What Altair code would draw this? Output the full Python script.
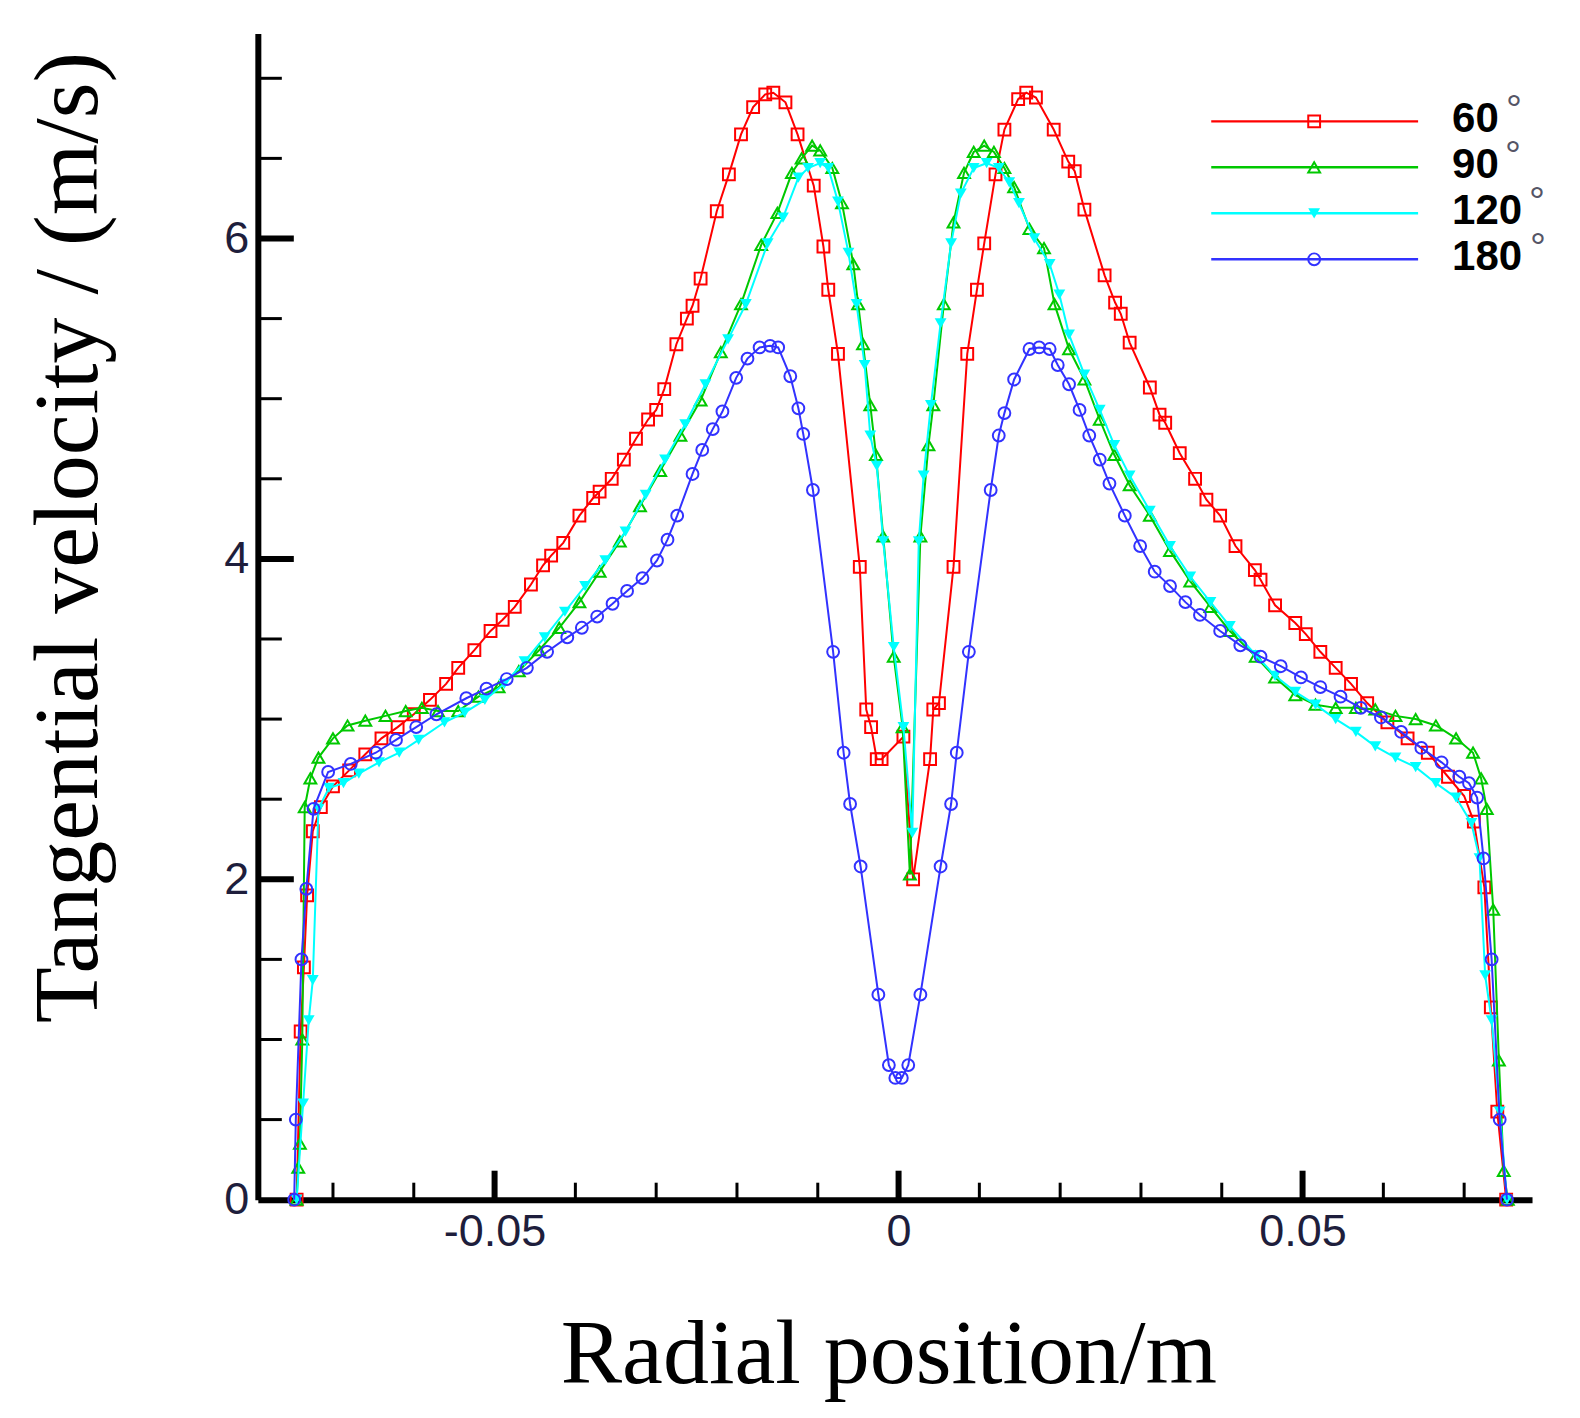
import altair as alt
import pandas as pd

# ---------------- data ----------------
series_names = ["60°", "90°", "120°", "180°"]
legend_numbers = ["60", "90", "120", "180"]

x_60 = [-0.0745, -0.0740, -0.0736, -0.0732, -0.0725, -0.0715, -0.0700, -0.0680, -0.0660, -0.0640,
        -0.0620, -0.0600, -0.0580, -0.0560, -0.0545, -0.0525, -0.0505, -0.0490, -0.0475, -0.0455,
        -0.0440, -0.0430, -0.0415, -0.0395, -0.0378, -0.0370, -0.0355, -0.0340, -0.0325, -0.0310,
        -0.0300, -0.0290, -0.0275, -0.0262, -0.0255, -0.0245, -0.0225, -0.0210, -0.0195, -0.0180,
        -0.0165, -0.0155, -0.0140, -0.0125, -0.0105, -0.0093, -0.0087, -0.0075, -0.0048, -0.0040,
        -0.0034, -0.0027, -0.0021, 0.0006, 0.0018, 0.0039, 0.0043, 0.0050, 0.0068, 0.0085,
        0.0097, 0.0106, 0.0120, 0.0131, 0.0148, 0.0158, 0.0170, 0.0192, 0.0210, 0.0218,
        0.0230, 0.0255, 0.0268, 0.0275, 0.0286, 0.0311, 0.0323, 0.0330, 0.0348, 0.0367,
        0.0381, 0.0398, 0.0417, 0.0441, 0.0448, 0.0466, 0.0491, 0.0504, 0.0522, 0.0541,
        0.0560, 0.0580, 0.0605, 0.0630, 0.0655, 0.0680, 0.0700, 0.0712, 0.0725, 0.0733,
        0.0741, 0.0752]
y_60 = [0.00, 1.05, 1.45, 1.90, 2.30, 2.45, 2.58, 2.68, 2.78, 2.88,
        2.95, 3.03, 3.12, 3.22, 3.32, 3.43, 3.55, 3.62, 3.70, 3.84,
        3.96, 4.02, 4.10, 4.27, 4.38, 4.42, 4.50, 4.62, 4.75, 4.87,
        4.93, 5.06, 5.34, 5.50, 5.58, 5.75, 6.17, 6.40, 6.65, 6.82,
        6.90, 6.91, 6.85, 6.65, 6.33, 5.95, 5.68, 5.28, 3.95, 3.06,
        2.95, 2.75, 2.75, 2.89, 2.00, 2.75, 3.06, 3.10, 3.95, 5.28,
        5.68, 5.97, 6.40, 6.68, 6.87, 6.91, 6.88, 6.68, 6.48, 6.42,
        6.18, 5.77, 5.60, 5.53, 5.35, 5.07, 4.90, 4.85, 4.66, 4.50,
        4.37, 4.27, 4.08, 3.93, 3.87, 3.71, 3.60, 3.53, 3.42, 3.32,
        3.22, 3.10, 2.98, 2.88, 2.79, 2.64, 2.52, 2.36, 1.95, 1.20,
        0.55, 0.00]

x_90 = [-0.0745, -0.0743, -0.0741, -0.0738, -0.0735, -0.0728, -0.0718, -0.0700, -0.0682, -0.0660,
        -0.0635, -0.0610, -0.0590, -0.0570, -0.0545, -0.0520, -0.0495, -0.0470, -0.0445, -0.0420,
        -0.0395, -0.0370, -0.0345, -0.0320, -0.0295, -0.0270, -0.0245, -0.0220, -0.0195, -0.0170,
        -0.0150, -0.0132, -0.0120, -0.0107, -0.0097, -0.0082, -0.0070, -0.0056, -0.0050, -0.0044,
        -0.0035, -0.0028, -0.0019, -0.0006, 0.0005, 0.0014, 0.0027, 0.0037, 0.0043, 0.0056,
        0.0068, 0.0081, 0.0093, 0.0106, 0.0118, 0.0131, 0.0143, 0.0162, 0.0180, 0.0193,
        0.0211, 0.0230, 0.0249, 0.0267, 0.0286, 0.0311, 0.0336, 0.0361, 0.0386, 0.0410,
        0.0442, 0.0466, 0.0491, 0.0516, 0.0541, 0.0566, 0.0590, 0.0615, 0.0640, 0.0665,
        0.0690, 0.0711, 0.0721, 0.0728, 0.0736, 0.0743, 0.0749, 0.0754]
y_90 = [0.00, 0.20, 0.35, 1.00, 2.45, 2.63, 2.76, 2.88, 2.96, 2.99,
        3.02, 3.05, 3.07, 3.05, 3.05, 3.14, 3.20, 3.30, 3.43, 3.57,
        3.73, 3.92, 4.11, 4.33, 4.55, 4.77, 4.99, 5.29, 5.59, 5.96,
        6.16, 6.41, 6.50, 6.58, 6.55, 6.44, 6.22, 5.84, 5.59, 5.34,
        4.96, 4.65, 4.14, 3.39, 2.95, 2.03, 4.14, 4.71, 4.96, 5.59,
        6.10, 6.41, 6.54, 6.58, 6.54, 6.44, 6.32, 6.06, 5.94, 5.59,
        5.31, 5.12, 4.87, 4.65, 4.46, 4.27, 4.05, 3.86, 3.70, 3.55,
        3.39, 3.26, 3.15, 3.09, 3.07, 3.07, 3.06, 3.02, 3.00, 2.96,
        2.88, 2.79, 2.63, 2.44, 1.81, 0.87, 0.18, 0.00]

x_120 = [-0.0745, -0.0737, -0.0730, -0.0725, -0.0718, -0.0705, -0.0687, -0.0668, -0.0643, -0.0618,
         -0.0594, -0.0562, -0.0537, -0.0512, -0.0488, -0.0463, -0.0438, -0.0413, -0.0388, -0.0363,
         -0.0338, -0.0313, -0.0289, -0.0264, -0.0239, -0.0211, -0.0189, -0.0162, -0.0143, -0.0124,
         -0.0112, -0.0097, -0.0087, -0.0075, -0.0062, -0.0052, -0.0042, -0.0035, -0.0027, -0.0019,
         -0.0006, 0.0006, 0.0017, 0.0025, 0.0031, 0.0040, 0.0052, 0.0065, 0.0077, 0.0093,
         0.0109, 0.0124, 0.0137, 0.0149, 0.0168, 0.0187, 0.0199, 0.0211, 0.0230, 0.0249,
         0.0267, 0.0286, 0.0311, 0.0336, 0.0361, 0.0386, 0.0410, 0.0442, 0.0466, 0.0491,
         0.0516, 0.0541, 0.0566, 0.0590, 0.0615, 0.0640, 0.0665, 0.0690, 0.0709, 0.0719,
         0.0726, 0.0734, 0.0744, 0.0753]
y_120 = [0.00, 0.60, 1.12, 1.37, 2.44, 2.57, 2.60, 2.66, 2.73, 2.79,
         2.87, 2.98, 3.04, 3.12, 3.22, 3.36, 3.51, 3.67, 3.83, 3.99,
         4.17, 4.40, 4.62, 4.84, 5.09, 5.37, 5.59, 5.97, 6.13, 6.38,
         6.44, 6.47, 6.44, 6.23, 5.91, 5.59, 5.21, 4.77, 4.58, 4.11,
         3.45, 2.95, 2.29, 4.11, 4.52, 4.96, 5.47, 5.97, 6.28, 6.44,
         6.47, 6.44, 6.35, 6.22, 6.00, 5.84, 5.65, 5.40, 5.15, 4.93,
         4.71, 4.52, 4.30, 4.08, 3.89, 3.73, 3.58, 3.40, 3.27, 3.17,
         3.09, 3.00, 2.92, 2.83, 2.76, 2.70, 2.60, 2.51, 2.35, 2.13,
         1.40, 1.12, 0.55, 0.00]

x_180 = [-0.0748, -0.0746, -0.0739, -0.0733, -0.0724, -0.0706, -0.0678, -0.0647, -0.0622, -0.0597,
         -0.0572, -0.0535, -0.0510, -0.0485, -0.0460, -0.0435, -0.0410, -0.0392, -0.0373, -0.0354,
         -0.0336, -0.0317, -0.0299, -0.0286, -0.0274, -0.0255, -0.0243, -0.0230, -0.0218, -0.0201,
         -0.0187, -0.0172, -0.0159, -0.0149, -0.0134, -0.0124, -0.0118, -0.0106, -0.0081, -0.0068,
         -0.0060, -0.0047, -0.0025, -0.0012, -0.0004, 0.0004, 0.0012, 0.0027, 0.0052, 0.0065,
         0.0072, 0.0087, 0.0114, 0.0124, 0.0131, 0.0143, 0.0162, 0.0174, 0.0187, 0.0197,
         0.0211, 0.0224, 0.0236, 0.0249, 0.0261, 0.0280, 0.0299, 0.0317, 0.0336, 0.0355,
         0.0373, 0.0398, 0.0423, 0.0448, 0.0473, 0.0498, 0.0522, 0.0547, 0.0572, 0.0597,
         0.0622, 0.0647, 0.0672, 0.0694, 0.0706, 0.0716, 0.0724, 0.0734, 0.0744, 0.0753]
y_180 = [0.00, 0.50, 1.50, 1.94, 2.44, 2.67, 2.72, 2.79, 2.87, 2.95,
         3.03, 3.13, 3.19, 3.25, 3.32, 3.42, 3.51, 3.57, 3.64, 3.72,
         3.80, 3.88, 3.99, 4.12, 4.27, 4.53, 4.68, 4.81, 4.92, 5.13,
         5.25, 5.32, 5.33, 5.32, 5.14, 4.94, 4.78, 4.43, 3.42, 2.79,
         2.47, 2.08, 1.28, 0.84, 0.76, 0.76, 0.84, 1.28, 2.08, 2.47,
         2.79, 3.42, 4.43, 4.77, 4.91, 5.12, 5.31, 5.32, 5.31, 5.21,
         5.09, 4.93, 4.77, 4.62, 4.47, 4.27, 4.08, 3.92, 3.83, 3.73,
         3.65, 3.55, 3.46, 3.39, 3.33, 3.26, 3.20, 3.14, 3.07, 3.01,
         2.92, 2.82, 2.73, 2.64, 2.60, 2.51, 2.13, 1.50, 0.50, 0.00]

x_major_ticks = [-0.05, 0.0, 0.05]
x_minor_ticks = [-0.07, -0.06, -0.04, -0.03, -0.02, -0.01, 0.01, 0.02, 0.03, 0.04, 0.06, 0.07]
y_major_ticks = [2.0, 4.0, 6.0]
y_label_values = [0, 2, 4, 6]
y_minor_ticks = [0.5, 1.0, 1.5, 2.5, 3.0, 3.5, 4.5, 5.0, 5.5, 6.5, 7.0]

x_domain = [-0.0793, 0.0784]
y_domain = [0.0, 7.28]

# ---------------- styling ----------------
colors = ["#ff0000", "#00c800", "#00ffff", "#3232ff"]
shapes = ["square", "triangle-up", "triangle-down", "circle"]
filled = [False, False, True, False]

W, H = 1275, 1167
LABEL_FONT = "Liberation Sans"
TITLE_FONT = "Liberation Serif"
LABEL_COLOR = "#1e1e3c"

xs = [x_60, x_90, x_120, x_180]
ys = [y_60, y_90, y_120, y_180]

frames = []
for name, xv, yv in zip(series_names, xs, ys):
    frames.append(pd.DataFrame({"x": xv, "y": yv, "series": name}))
df = pd.concat(frames, ignore_index=True)

x_scale = alt.Scale(domain=x_domain, nice=False, zero=False)
y_scale = alt.Scale(domain=y_domain, nice=False, zero=False)

x_axis = alt.Axis(
    values=x_major_ticks, labelExpr="'' + datum.value", ticks=False, tickSize=0, grid=False,
    domainColor="black", domainWidth=6, labelFont=LABEL_FONT, labelFontSize=45,
    labelColor=LABEL_COLOR, labelPadding=10, labelFlush=False, labelOverlap=False,
    title="Radial position/m", titleFont=TITLE_FONT, titleFontSize=92, titleFontWeight="normal",
    titleColor="black", titleX=631, titleY=183, titleAlign="center", titleBaseline="alphabetic",
    titleAnchor="middle",
)
y_axis = alt.Axis(
    values=y_label_values, labelExpr="'' + datum.value", ticks=False, tickSize=0, grid=False,
    domainColor="black", domainWidth=6, labelFont=LABEL_FONT, labelFontSize=45,
    labelColor=LABEL_COLOR, labelPadding=9, labelFlush=False, labelOverlap=False,
    title="Tangential velocity / (m/s)", titleFont=TITLE_FONT, titleFontSize=92,
    titleFontWeight="normal", titleColor="black", titleAngle=270, titleX=-161, titleY=504,
    titleAlign="center", titleBaseline="alphabetic", titleAnchor="middle",
)

X = alt.X("x:Q", scale=x_scale, axis=x_axis)
Y = alt.Y("y:Q", scale=y_scale, axis=y_axis)

layers = []
base = alt.Chart(df)
for name, col, shp, fil in zip(series_names, colors, shapes, filled):
    sub = base.transform_filter(alt.datum.series == name)
    layers.append(sub.mark_line(color=col, strokeWidth=2, clip=False).encode(x=X, y=Y))
    layers.append(
        sub.mark_point(shape=shp, filled=fil, color=col, size=140, strokeWidth=2, opacity=1)
        .encode(x=X, y=Y)
    )

# inward ticks
xmaj = alt.Chart(pd.DataFrame({"x": x_major_ticks})).mark_rule(color="black", strokeWidth=6).encode(
    x=X, y=alt.value(H), y2=alt.value(H - 29))
xmin = alt.Chart(pd.DataFrame({"x": x_minor_ticks})).mark_rule(color="black", strokeWidth=3).encode(
    x=X, y=alt.value(H), y2=alt.value(H - 17))
ymaj = alt.Chart(pd.DataFrame({"y": y_major_ticks})).mark_rule(color="black", strokeWidth=6).encode(
    y=Y, x=alt.value(0), x2=alt.value(36))
ymin = alt.Chart(pd.DataFrame({"y": y_minor_ticks})).mark_rule(color="black", strokeWidth=3).encode(
    y=Y, x=alt.value(0), x2=alt.value(24))
layers = [xmaj, xmin, ymaj, ymin] + layers

# legend (drawn by hand, top right)
one = pd.DataFrame({"k": [0]})
row_y = [88, 134, 180, 226]
deg_x = [1257, 1256, 1280, 1281]
for i in range(4):
    ry = row_y[i]
    layers.append(alt.Chart(one).mark_rule(color=colors[i], strokeWidth=2.5).encode(
        x=alt.value(954), x2=alt.value(1161), y=alt.value(ry)))
    layers.append(alt.Chart(one).mark_point(shape=shapes[i], filled=filled[i], color=colors[i],
                                            size=140, strokeWidth=2, opacity=1).encode(
        x=alt.value(1057), y=alt.value(ry)))
    layers.append(alt.Chart(one).mark_text(text=legend_numbers[i], font=LABEL_FONT, fontSize=42,
                                           fontWeight="bold", color="black", align="left",
                                           baseline="middle").encode(
        x=alt.value(1195), y=alt.value(ry - 2)))
    layers.append(alt.Chart(one).mark_text(text="°", font=LABEL_FONT, fontSize=40,
                                           color="#555566", align="center",
                                           baseline="alphabetic").encode(
        x=alt.value(deg_x[i]), y=alt.value(ry + 2)))

chart = alt.layer(*layers).properties(
    width=W, height=H, autosize="none",
    padding={"left": 250, "top": 25, "right": 40, "bottom": 210},
    background="white",
).configure_view(strokeWidth=0)

chart.save("out.html", embed_options={"renderer": "svg", "actions": False})
